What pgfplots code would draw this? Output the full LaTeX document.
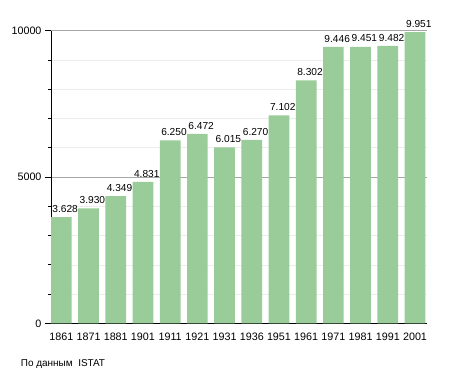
\documentclass[border=0pt]{standalone}
\usepackage{fontspec}
\setmainfont{Liberation Sans}
\usepackage{pgfplots}
\pgfplotsset{compat=1.18}
\definecolor{bargreen}{RGB}{153,204,153}
\begin{document}
\begin{tikzpicture}
\useasboundingbox (0,0) rectangle (455bp,373bp);
\begin{axis}[
 at={(51bp,49.7bp)}, anchor=south west,
 scale only axis, width=375.7bp, height=292.6bp,
 xmin=-0.38, xmax=13.43, ymin=0, ymax=10000,
 ybar, bar width=20.7bp, bar shift=0pt,
 axis x line*=bottom, axis y line*=left,
 axis line style={-, black, line width=0.8pt},
 xtick=data,
 xticklabels={1861,1871,1881,1901,1911,1921,1931,1936,1951,1961,1971,1981,1991,2001},
 x tick label style={font=\fontsize{10.8}{12}\selectfont},
 xtick style={draw=none},
 ytick={0,5000,10000}, minor y tick num=4,
 scaled y ticks=false,
 tick align=outside, major tick length=6bp, minor tick length=3bp,
 ytick style={black, line width=0.6pt},
 minor y tick style={black, line width=0.6pt},
 ymajorgrids, yminorgrids,
 major grid style={gray!70, line width=0.6pt},
 minor grid style={gray!15, line width=0.5pt},
 /pgf/number format/1000 sep={},
 /pgf/number format/assume math mode=true,
 y tick label style={font=\fontsize{10.8}{12}\selectfont},
 nodes near coords={\pgfmathprintnumber[1000 sep={.}]{\pgfplotspointmeta}},
 every node near coord/.append style={anchor=south west, inner sep=0pt, xshift=-9.1bp, yshift=4.5bp, font=\fontsize{10.2}{12}\selectfont, black},
]
\addplot[fill=bargreen, draw=none] coordinates {
(0,3628) (1,3930) (2,4349) (3,4831) (4,6250) (5,6472) (6,6015)
(7,6270) (8,7102) (9,8302) (10,9446) (11,9451) (12,9482) (13,9951)};
\end{axis}
\node[anchor=base west, inner sep=0pt, font=\fontsize{10}{12}\selectfont] at (20.7bp,6.3bp) {По данным\ \ ISTAT};
\end{tikzpicture}
\end{document}
